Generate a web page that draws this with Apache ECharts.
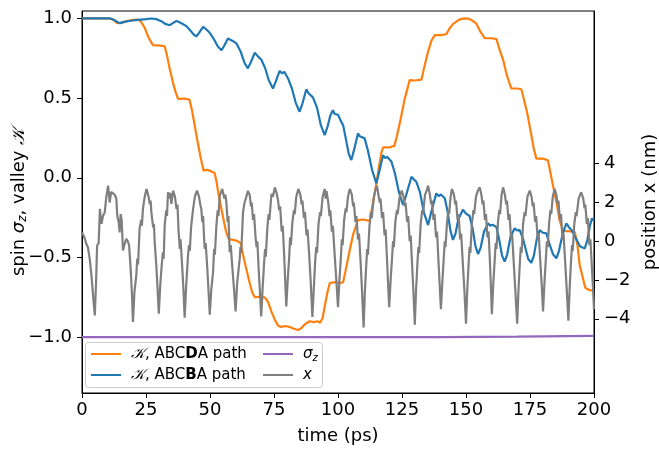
<!DOCTYPE html>
<html lang="en">
<head>
    <meta charset="UTF-8">
    <title>spin / valley vs time</title>
    <script src="https://cdn.jsdelivr.net/npm/echarts@6/dist/echarts.min.js"></script>
</head>
<body style="margin:0;">
<div id='myChart' style='width: 659px;height:451px;'></div>
<script type="text/javascript">
    // [time (ps), value]
    var kD = [[0,1.0],[5,1.0],[10,1.0],[12,0.995],[13.5,0.972],[15,0.97],[16.5,0.978],[18,0.985],[20,0.99],[22,0.992],[23,0.98],[24.5,0.94],[26,0.88],[27.7,0.832],[30,0.83],[32.3,0.825],[33.3,0.76],[34.3,0.68],[35.5,0.6],[36.5,0.54],[37.5,0.495],[40,0.497],[42,0.49],[43,0.42],[44,0.33],[45,0.24],[46.3,0.13],[47.5,0.045],[49,0.05],[50.5,0.04],[51.8,0.03],[52.5,-0.02],[53.3,-0.1],[55,-0.24],[56.3,-0.34],[57.3,-0.385],[59,-0.39],[60.5,-0.395],[62,-0.41],[63,-0.49],[64.3,-0.58],[65.5,-0.66],[66.5,-0.72],[67.5,-0.75],[69.5,-0.745],[71.5,-0.752],[72.7,-0.78],[74,-0.84],[75.3,-0.89],[76.5,-0.925],[77.5,-0.935],[79.5,-0.93],[81,-0.935],[82.5,-0.945],[84.4,-0.955],[85.5,-0.945],[87,-0.92],[88.9,-0.9],[90.5,-0.905],[92.2,-0.9],[93,-0.91],[94,-0.88],[95,-0.79],[96,-0.71],[96.8,-0.66],[99,-0.655],[101,-0.66],[102,-0.655],[103,-0.58],[104.5,-0.46],[106,-0.35],[107.8,-0.265],[110,-0.262],[112.4,-0.27],[113.3,-0.19],[114.3,-0.1],[115,-0.035],[116,0.07],[117,0.16],[117.6,0.19],[120,0.19],[122,0.2],[123,0.26],[124.5,0.37],[126,0.49],[128,0.613],[130,0.61],[132.6,0.615],[133.5,0.68],[135,0.78],[136.5,0.86],[137.8,0.895],[140,0.895],[142.3,0.9],[143.5,0.935],[145,0.965],[147.5,0.993],[149,0.998],[150.1,1.0],[151.5,0.995],[153,0.98],[154,0.968],[155.5,0.92],[157.3,0.875],[160,0.875],[161.9,0.87],[163,0.81],[164.5,0.74],[166,0.64],[167.7,0.56],[170,0.56],[171.6,0.555],[172.5,0.5],[174,0.4],[175.5,0.27],[176.5,0.18],[177.5,0.12],[180,0.12],[182,0.11],[183,0.03],[184,-0.05],[185.3,-0.15],[186.6,-0.27],[188,-0.335],[190,-0.335],[192.5,-0.34],[193.5,-0.42],[194.4,-0.547],[195.5,-0.62],[196.6,-0.69],[197.6,-0.7],[200,-0.712]];

    var kB = [[0,1.0],[8,1.0],[10.9,1.0],[12.5,0.99],[14.7,0.97],[16.5,0.978],[19,0.985],[22,0.99],[25,0.995],[27.1,0.999],[29,0.995],[31,0.982],[32.5,0.965],[34.3,0.957],[35.5,0.97],[36.9,0.984],[38.5,0.972],[40.8,0.951],[42.5,0.92],[43.8,0.895],[44.7,0.888],[45.8,0.91],[47.3,0.947],[48.6,0.93],[49.9,0.909],[51.5,0.87],[53,0.825],[54.5,0.8],[55.6,0.83],[57,0.874],[58.7,0.86],[60.3,0.843],[62,0.79],[63.5,0.72],[64.8,0.686],[65.8,0.72],[67.5,0.784],[68.8,0.76],[70,0.742],[71.5,0.69],[73,0.61],[74.6,0.56],[75.6,0.6],[77.2,0.67],[78.2,0.655],[79,0.665],[80.5,0.623],[82,0.56],[83.5,0.47],[85,0.414],[86,0.46],[87.6,0.554],[88.5,0.53],[89.2,0.535],[90.2,0.504],[91.8,0.44],[93.3,0.33],[94.8,0.268],[95.9,0.32],[97,0.39],[98,0.424],[98.7,0.4],[100,0.395],[101,0.36],[102,0.33],[103,0.25],[104.2,0.15],[105.2,0.111],[106.2,0.17],[107.8,0.278],[108.5,0.26],[109.2,0.268],[110.4,0.247],[111.7,0.17],[113.3,0.05],[115,-0.035],[116,0.03],[117.6,0.142],[118.3,0.125],[119.3,0.13],[120.9,0.1],[122.2,0.03],[123.8,-0.09],[125.4,-0.171],[126.6,-0.11],[128.7,0.006],[129.6,-0.01],[130.6,-0.025],[132,-0.09],[133.6,-0.22],[135.2,-0.297],[136.5,-0.21],[138.4,-0.098],[139.3,-0.115],[140.2,-0.105],[141.7,-0.129],[142.8,-0.21],[143.9,-0.33],[144.9,-0.39],[145.9,-0.35],[147,-0.26],[148.8,-0.2],[150,-0.225],[151.4,-0.24],[152.6,-0.32],[153.7,-0.43],[154.7,-0.478],[155.7,-0.44],[157,-0.34],[158.6,-0.286],[159.5,-0.3],[160.5,-0.295],[161.9,-0.31],[163,-0.39],[164.1,-0.49],[165.1,-0.526],[166.1,-0.48],[167.4,-0.37],[169,-0.317],[170,-0.33],[171,-0.328],[172.4,-0.39],[174.3,-0.51],[175.5,-0.533],[176.5,-0.49],[177.7,-0.38],[178.8,-0.328],[180,-0.345],[181.4,-0.349],[182.5,-0.41],[184,-0.48],[185.3,-0.505],[186.3,-0.46],[187.8,-0.35],[189.2,-0.286],[190.2,-0.31],[191.2,-0.328],[192.6,-0.37],[194.5,-0.43],[196.4,-0.443],[197.4,-0.39],[198.4,-0.3],[199.2,-0.255],[200,-0.27]];

    var sigmaZ = [[0,-1.0],[100,-1.0],[140,-0.999],[170,-0.996],[200,-0.992]];

    // position x (nm), right axis
    var posX = [[0,0.45],[0.8,0.25],[1.6,-0.1],[2.3,-0.31],[3.0,-0.9],[3.7,-1.77],[4.4,-2.9],[5.0,-3.83],[5.5,-2.1],[5.9,-0.22],[6.5,-0.1],[6.9,-0.13],[7.0,1.67],[7.6,0.9],[8.2,1.3],[8.9,1.5],[9.5,2.3],[10.2,2.87],[10.8,2.0],[11.4,2.55],[12.1,2.6],[12.8,2.4],[13.4,2.2],[13.8,1.3],[14.3,1.0],[14.7,0.46],[15.1,1.4],[15.5,1.1],[16.0,-0.48],[16.5,-0.2],[17.3,0.12],[17.9,0.0],[18.4,-0.22],[19.0,-1.4],[19.5,-2.7],[19.9,-4.17],
        [20.5,-2.6],[21.2,-1.77],[21.6,-0.9],[21.9,-1.2],[22.5,0.64],[23.1,1.1],[23.4,0.8],[23.8,1.67],[24.5,2.3],[25.2,2.7],[26.0,2.3],[26.5,1.9],[26.8,2.1],[27.1,1.5],[27.8,0.7],[28.1,0.9],[28.4,-0.05],[29.0,-1.2],[29.5,-2.4],[30.0,-3.74],
        [30.6,-2.2],[31.1,-1.3],[31.6,-0.57],[31.9,-0.9],[32.3,0.81],[32.9,1.6],[33.2,1.3],[33.6,2.53],[34.2,2.2],[34.5,2.5],[34.9,1.93],[35.6,2.61],[36.3,2.3],[36.9,1.67],[37.3,1.9],[37.7,0.6],[38.2,-0.39],[38.5,0.1],[39.0,-1.0],[39.6,-2.4],[40.1,-3.95],
        [40.7,-2.3],[41.4,-0.74],[41.8,-0.2],[42.1,-0.5],[42.6,0.7],[43.0,1.2],[43.4,1.67],[44.1,2.3],[44.9,2.61],[45.7,2.3],[46.2,1.9],[46.6,1.67],[47.0,1.0],[47.3,1.3],[47.9,-0.39],[48.3,-0.1],[48.9,-1.3],[49.4,-2.5],[49.9,-3.79],
        [50.5,-2.5],[51.2,-1.6],[51.6,-0.4],[51.9,-0.7],[52.5,0.81],[53.0,1.6],[53.3,1.3],[53.8,2.36],[54.8,2.7],[55.6,2.2],[56.0,2.4],[56.4,2.0],[56.9,1.0],[57.2,1.3],[57.7,-0.57],[58.1,-0.2],[58.7,-1.3],[59.4,-2.5],[60.0,-3.62],
        [60.6,-2.2],[61.2,-1.4],[61.6,-0.91],[61.9,-0.3],[62.2,-0.6],[62.9,1.5],[63.5,2.0],[64.2,2.3],[64.8,2.6],[65.5,2.4],[66.0,1.8],[66.3,2.0],[66.8,1.1],[67.2,1.4],[67.8,0.2],[68.2,-0.3],[68.5,0.0],[69.0,-1.4],[69.5,-2.6],[70.0,-3.88],
        [70.6,-2.3],[71.1,-1.2],[71.5,-0.4],[71.8,-0.8],[72.4,0.7],[72.9,1.4],[73.2,1.1],[74.0,2.44],[74.6,2.3],[75.3,2.78],[76.0,2.5],[76.6,2.1],[77.0,1.6],[77.4,1.8],[78.0,0.5],[78.4,0.8],[78.9,-0.5],[79.3,-1.8],[79.8,-3.37],
        [80.4,-1.9],[80.9,-0.9],[81.3,0.2],[81.6,-0.2],[82.2,1.0],[82.8,1.6],[83.1,1.4],[83.7,2.3],[84.5,2.7],[85.3,2.4],[85.8,1.9],[86.1,2.1],[86.7,1.2],[87.1,1.5],[87.7,0.3],[88.1,0.6],[88.7,-0.6],[89.3,-2.0],[90.0,-3.9],
        [90.6,-2.3],[91.1,-1.0],[91.5,-0.3],[91.8,-0.6],[92.4,0.9],[93.0,1.5],[93.3,1.3],[94.0,2.3],[94.8,2.7],[95.2,2.2],[95.5,2.6],[96.2,2.0],[96.7,1.3],[97.0,1.6],[97.6,0.5],[98.0,0.8],[98.6,-0.5],[99.3,-1.9],[100.0,-3.4],
        [100.6,-1.9],[101.1,-0.9],[101.5,0.1],[101.8,-0.2],[102.4,1.1],[103.0,1.7],[103.3,1.5],[103.9,2.3],[104.6,2.7],[105.4,2.4],[105.9,1.8],[106.2,2.0],[106.8,1.0],[107.2,1.3],[107.8,0.1],[108.2,0.4],[108.8,-1.0],[109.4,-2.6],[110.0,-4.45],
        [110.5,-2.6],[111.0,-1.3],[111.4,-0.4],[111.7,-0.7],[112.3,0.8],[112.9,1.5],[113.2,1.2],[113.9,2.2],[114.5,2.6],[115.2,2.87],[115.8,2.4],[116.3,2.0],[116.6,2.2],[117.2,1.2],[117.6,1.5],[118.2,0.3],[118.6,0.6],[119.1,-0.8],[119.5,-2.0],[120.0,-3.4],
        [120.6,-1.9],[121.1,-0.9],[121.5,0.0],[121.8,-0.3],[122.4,1.0],[123.0,1.6],[123.3,1.4],[124.1,2.3],[124.9,2.61],[125.6,2.3],[126.1,1.8],[126.4,2.0],[127.0,1.0],[127.4,1.3],[128.0,0.0],[128.4,0.3],[128.9,-1.1],[129.5,-2.7],[130.0,-4.3],
        [130.5,-2.5],[131.0,-1.2],[131.4,-0.3],[131.7,-0.6],[132.3,0.9],[132.9,1.6],[133.2,1.4],[134.0,2.4],[134.6,2.6],[135.2,2.87],[135.9,2.4],[136.4,1.9],[136.7,2.1],[137.3,1.1],[137.7,1.4],[138.3,0.2],[138.7,0.5],[139.2,-0.9],[139.7,-2.2],[140.2,-3.5],
        [140.8,-2.0],[141.3,-0.9],[141.7,0.0],[142.0,-0.3],[142.6,1.0],[143.1,1.6],[143.4,1.4],[144.0,2.3],[144.5,2.7],[145.3,2.4],[145.8,1.9],[146.1,2.1],[146.7,1.1],[147.1,1.4],[147.7,0.1],[148.1,0.4],[148.7,-1.0],[149.4,-2.6],[150.0,-4.26],
        [150.5,-2.5],[151.0,-1.2],[151.4,-0.3],[151.7,-0.6],[152.3,0.9],[152.9,1.6],[153.2,1.4],[153.9,2.3],[154.6,2.6],[155.4,2.78],[156.0,2.4],[156.5,1.9],[156.8,2.1],[157.4,1.1],[157.8,1.4],[158.4,0.2],[158.8,0.5],[159.3,-0.9],[159.7,-2.2],[160.1,-3.76],
        [160.7,-2.1],[161.2,-1.0],[161.6,-0.1],[161.9,-0.4],[162.5,1.0],[163.0,1.6],[163.3,1.4],[163.9,2.4],[164.5,2.78],[165.2,2.4],[165.7,1.9],[166.0,2.1],[166.6,1.1],[167.0,1.4],[167.6,0.1],[168.0,0.4],[168.6,-1.0],[169.3,-2.6],[170.0,-4.26],
        [170.5,-2.5],[171.0,-1.2],[171.4,-0.3],[171.7,-0.6],[172.3,0.9],[172.9,1.5],[173.2,1.3],[174.0,2.3],[174.9,2.61],[175.6,2.3],[176.1,1.8],[176.4,2.0],[177.0,1.0],[177.4,1.3],[178.0,0.1],[178.4,0.4],[179.0,-1.0],[179.6,-2.3],[180.1,-3.62],
        [180.7,-2.0],[181.2,-0.9],[181.6,0.0],[181.9,-0.3],[182.5,1.0],[183.0,1.6],[183.3,1.4],[183.9,2.3],[184.6,2.7],[185.3,2.4],[185.8,1.9],[186.1,2.1],[186.7,1.1],[187.1,1.4],[187.7,0.1],[188.1,0.4],[188.7,-1.0],[189.4,-2.6],[190.0,-4.1],
        [190.5,-2.4],[191.0,-1.1],[191.4,-0.2],[191.7,-0.5],[192.3,0.9],[192.9,1.5],[193.2,1.3],[194.0,2.2],[195.0,2.53],[195.8,2.2],[196.3,1.7],[196.6,1.9],[197.2,0.9],[197.6,1.2],[198.2,-0.2],[198.6,0.1],[199.2,-1.4],[199.6,-2.4],[200.0,-3.5]];

    var leftTicks = [-1, -0.5, 0, 0.5, 1];
    var rightTicks = [-4, -2, 0, 2, 4];

    var FONT = 'DejaVu Sans';
    var minus = function (s) { return String(s).replace('-', '\u2212'); };

    var myChart = echarts.init(document.getElementById('myChart'));

    var legendRich = {
        g: {width: 5},
        k: {fontFamily: 'DejaVu Serif', fontStyle: 'italic', fontSize: 15},
        b: {fontWeight: 'bold', fontSize: 15},
        i: {fontStyle: 'italic', fontSize: 15},
        s: {fontStyle: 'italic', fontSize: 10, padding: [8, 0, 0, 0]}
    };
    function legendFmt(name) {
        if (name == 'kD') return '{g|}{k|\uD835\uDCA6}, ABC{b|D}A path';
        if (name == 'kB') return '{g|}{k|\uD835\uDCA6}, ABC{b|B}A path';
        if (name == 'sz') return '{g|}{i|\u03C3}{s|z}';
        return '{g|}{i|x}';
    }

    var option = {
        animation: false,
        backgroundColor: '#fff',
        textStyle: {fontFamily: FONT},
        grid: {left: 82, right: 65, top: 11, bottom: 58, outerBoundsMode: 'none', containLabel: false,
            show: true, borderColor: '#000', borderWidth: 1, backgroundColor: 'transparent'},
        legend: [{
            data: ['kD', 'kB'], orient: 'vertical', left: 90, top: 345, padding: 0,
            itemWidth: 30, itemHeight: 12, itemGap: 3, itemStyle: {opacity: 0},
            formatter: legendFmt,
            textStyle: {fontFamily: FONT, fontSize: 15, color: '#000', lineHeight: 18, rich: legendRich}
        }, {
            data: ['sz', 'x'], orient: 'vertical', left: 262, top: 345, padding: 0,
            itemWidth: 30, itemHeight: 12, itemGap: 3, itemStyle: {opacity: 0},
            formatter: legendFmt,
            textStyle: {fontFamily: FONT, fontSize: 15, color: '#000', lineHeight: 18, rich: legendRich}
        }],
        graphic: [{
            type: 'rect', left: 85, top: 342, z: 1,
            shape: {width: 237, height: 45, r: 3},
            style: {fill: 'rgba(255,255,255,0.8)', stroke: '#cccccc', lineWidth: 1}
        }],
        xAxis: {
            type: 'value', min: 0, max: 200, interval: 25,
            name: 'time (ps)', nameLocation: 'middle', nameGap: 34,
            nameTextStyle: {fontSize: 18, color: '#000', fontFamily: FONT},
            axisLine: {onZero: false, lineStyle: {color: '#000', width: 1}},
            axisTick: {length: 5, lineStyle: {color: '#000'}},
            axisLabel: {fontSize: 18, color: '#000', margin: 8, fontFamily: FONT},
            splitLine: {show: false}
        },
        yAxis: [{
            type: 'value', min: -1.35, max: 1.046, position: 'left',
            name: 'spin {i|\u03C3}{s|z}, valley {k|\uD835\uDCA6}', nameLocation: 'middle', nameGap: 53,
            nameMoveOverlap: false,
            nameTextStyle: {fontSize: 18, color: '#000', fontFamily: FONT, rich: {
                i: {fontStyle: 'italic', fontSize: 18},
                s: {fontStyle: 'italic', fontSize: 12, padding: [8, 0, 0, 0]},
                k: {fontFamily: 'DejaVu Serif', fontStyle: 'italic', fontSize: 18}
            }},
            axisLine: {show: true, lineStyle: {color: '#000', width: 1}},
            axisTick: {show: true, length: 5, lineStyle: {color: '#000'}, customValues: leftTicks},
            axisLabel: {fontSize: 18, color: '#000', margin: 10, fontFamily: FONT, customValues: leftTicks,
                formatter: function (v) { return minus(v.toFixed(1)); }},
            splitLine: {show: false}
        }, {
            type: 'value', min: -7.83, max: 11.88, position: 'right',
            name: 'position x (nm)', nameLocation: 'middle', nameGap: 43, nameRotate: 90,
            nameTextStyle: {fontSize: 18, color: '#000', fontFamily: FONT},
            axisLine: {show: true, lineStyle: {color: '#000', width: 1}},
            axisTick: {show: true, length: 5, lineStyle: {color: '#000'}, customValues: rightTicks},
            axisLabel: {fontSize: 18, color: '#000', margin: 10, fontFamily: FONT, customValues: rightTicks,
                formatter: function (v) { return minus(v); }},
            splitLine: {show: false}
        }],
        series: [{
            name: 'kD', type: 'line', data: kD, yAxisIndex: 0, symbol: 'none', z: 3,
            lineStyle: {color: '#ff7f0e', width: 2.2}, itemStyle: {color: '#ff7f0e'}
        }, {
            name: 'kB', type: 'line', data: kB, yAxisIndex: 0, symbol: 'none', z: 3,
            lineStyle: {color: '#1f77b4', width: 2.2}, itemStyle: {color: '#1f77b4'}
        }, {
            name: 'sz', type: 'line', data: sigmaZ, yAxisIndex: 0, symbol: 'none', z: 3,
            lineStyle: {color: '#9467bd', width: 2.2}, itemStyle: {color: '#9467bd'}
        }, {
            name: 'x', type: 'line', data: posX, yAxisIndex: 1, symbol: 'none', z: 4,
            lineStyle: {color: '#7f7f7f', width: 2.2}, itemStyle: {color: '#7f7f7f'}
        }]
    };
    myChart.setOption(option);
    window.onresize = function () {
        myChart.resize();
    };
</script>
</body>
</html>
